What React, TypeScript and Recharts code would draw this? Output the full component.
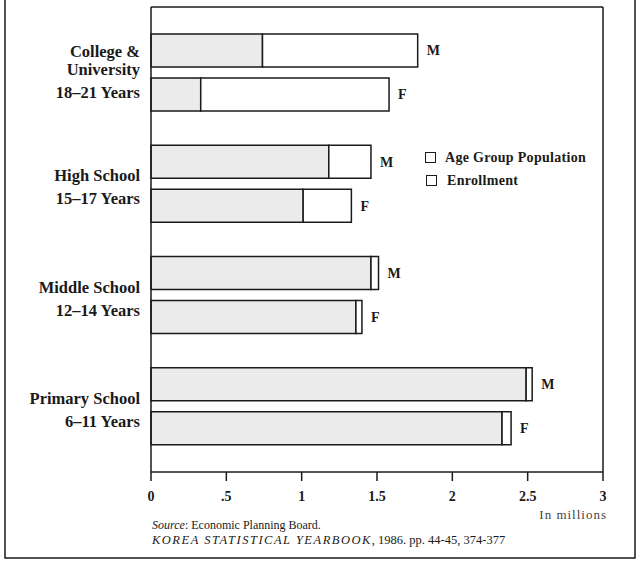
import React from 'react';
import { BarChart, Bar, XAxis, YAxis, LabelList } from 'recharts';

const categories = ['College', 'High', 'Middle', 'Primary'];
const categoryLines: string[][] = [
  ['College &', 'University', '18–21 Years'],
  ['High School', '15–17 Years'],
  ['Middle School', '12–14 Years'],
  ['Primary School', '6–11 Years'],
];
const maleEnrollment = [0.74, 1.18, 1.46, 2.49];
const malePopulation = [1.77, 1.46, 1.51, 2.53];
const femaleEnrollment = [0.33, 1.01, 1.36, 2.33];
const femalePopulation = [1.58, 1.33, 1.4, 2.39];
const xTicks = [0, 0.5, 1, 1.5, 2, 2.5, 3];
const xTickLabels = ['0', '.5', '1', '1.5', '2', '2.5', '3'];

const data = categories.map((c, i) => ({
  name: c,
  mEnroll: maleEnrollment[i],
  mRest: +(malePopulation[i] - maleEnrollment[i]).toFixed(3),
  fEnroll: femaleEnrollment[i],
  fRest: +(femalePopulation[i] - femaleEnrollment[i]).toFixed(3),
}));

const FONT = '"Liberation Serif", "Times New Roman", serif';
const INK = '#1a1a1a';
const FILL = '#ebebeb';

const CategoryTick = (props: any) => {
  const { x, y, payload } = props;
  const idx = categories.indexOf(payload.value);
  const lines = categoryLines[idx] || [];
  const offsets = lines.length === 3 ? [-21, -3, 20] : [-8, 15];
  return (
    <g>
      {lines.map((l, i) => (
        <text
          key={i}
          x={x - 3}
          y={y + offsets[i] + 5.5}
          textAnchor="end"
          fontFamily={FONT}
          fontWeight="bold"
          fontSize={16.5}
          fill={INK}
        >
          {l}
        </text>
      ))}
    </g>
  );
};

const XTick = (props: any) => {
  const { x, y, payload } = props;
  const i = xTicks.indexOf(payload.value);
  return (
    <text x={x} y={y + 18} textAnchor="middle" fontFamily={FONT} fontWeight="bold" fontSize={14} fill={INK}>
      {xTickLabels[i]}
    </text>
  );
};

export default function App() {
  return (
    <div style={{ position: 'absolute', left: 0, top: 0, width: 638, height: 564, background: '#fff' }}>
      <BarChart
        width={638}
        height={564}
        data={data}
        layout="vertical"
        margin={{ top: 6, right: 34, bottom: 62, left: 0 }}
        barSize={33}
        barGap={11}
      >
        <XAxis
          type="number"
          domain={[0, 3]}
          ticks={xTicks}
          interval={0}
          height={30}
          axisLine={{ stroke: INK, strokeWidth: 1.5 }}
          tickLine={{ stroke: INK, strokeWidth: 1.5 }}
          tickSize={9}
          tick={<XTick />}
        />
        <XAxis
          xAxisId="top"
          orientation="top"
          type="number"
          domain={[0, 3]}
          height={1}
          tick={false}
          tickLine={false}
          axisLine={{ stroke: INK, strokeWidth: 1.5 }}
        />
        <YAxis
          type="category"
          dataKey="name"
          width={151}
          padding={{ top: 10, bottom: 10 }}
          axisLine={{ stroke: INK, strokeWidth: 1.5 }}
          tickLine={false}
          tick={<CategoryTick />}
          interval={0}
        />
        <YAxis
          yAxisId="right"
          orientation="right"
          type="number"
          domain={[0, 1]}
          width={1}
          tick={false}
          tickLine={false}
          axisLine={{ stroke: INK, strokeWidth: 1.5 }}
        />
        <Bar dataKey="mEnroll" stackId="M" fill={FILL} stroke={INK} strokeWidth={1.5} isAnimationActive={false} />
        <Bar dataKey="mRest" stackId="M" fill="#fff" stroke={INK} strokeWidth={1.5} isAnimationActive={false}>
          <LabelList
            position="right"
            offset={9}
            formatter={() => 'M'}
            fontFamily={FONT}
            fontWeight="bold"
            fontSize={14}
            fill={INK}
          />
        </Bar>
        <Bar dataKey="fEnroll" stackId="F" fill={FILL} stroke={INK} strokeWidth={1.5} isAnimationActive={false} />
        <Bar dataKey="fRest" stackId="F" fill="#fff" stroke={INK} strokeWidth={1.5} isAnimationActive={false}>
          <LabelList
            position="right"
            offset={9}
            formatter={() => 'F'}
            fontFamily={FONT}
            fontWeight="bold"
            fontSize={14}
            fill={INK}
          />
        </Bar>
      </BarChart>
      <svg
        width={638}
        height={564}
        style={{ position: 'absolute', left: 0, top: 0, pointerEvents: 'none' }}
      >
        <polyline points="5,0 5,558 635,558 635,0" fill="none" stroke={INK} strokeWidth={1.5} />
        <rect x={425.5} y={152.5} width={10} height={10} fill="#fff" stroke={INK} strokeWidth={1} />
        <text x={445} y={162} fontFamily={FONT} fontWeight="bold" fontSize={14} letterSpacing={0.3} fill={INK}>
          Age Group Population
        </text>
        <rect x={426.5} y={175.5} width={10} height={10} fill="#fff" stroke={INK} strokeWidth={1} />
        <text x={447} y={185} fontFamily={FONT} fontWeight="bold" fontSize={14} letterSpacing={0.3} fill={INK}>
          Enrollment
        </text>
        <text x={607} y={519} textAnchor="end" fontFamily={FONT} fontSize={13} letterSpacing={1} fill="#444">
          In millions
        </text>
        <text x={152} y={529} fontFamily={FONT} fontSize={12} fill={INK}>
          <tspan fontStyle="italic">Source</tspan>: Economic Planning Board.
        </text>
        <text x={152} y={544} fontFamily={FONT} fontSize={12.5} fill={INK}>
          <tspan fontStyle="italic" letterSpacing={1.5}>KOREA STATISTICAL YEARBOOK</tspan>, 1986. pp. 44-45, 374-377
        </text>
      </svg>
    </div>
  );
}
